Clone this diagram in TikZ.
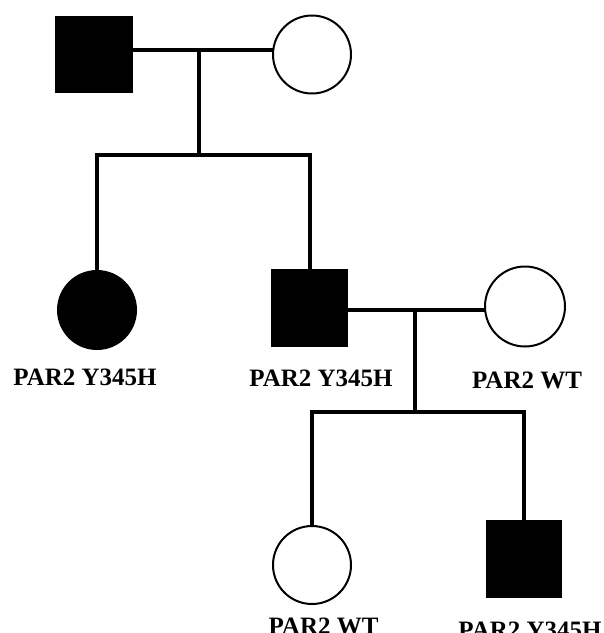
\documentclass[tikz,border=0pt]{standalone}
\usepackage{fontspec}
\setmainfont{Liberation Serif}
\begin{document}
\begin{tikzpicture}[x=1pt,y=-1pt,
  male/.style={rectangle,draw=black,line width=1.5pt,inner sep=0pt},
  female/.style={circle,draw=black,line width=2pt,inner sep=0pt},
  affected/.style={fill=black},
  unaffected/.style={fill=white},
  link/.style={line width=4pt,line join=miter,line cap=rect},
  genotype/.style={anchor=base,inner sep=0pt,font=\fontsize{25}{28}\selectfont\bfseries}]
\useasboundingbox[fill=white] (0,0) rectangle (604,633);

% first generation
\node[male,affected,minimum width=77pt,minimum height=76pt] (F) at (94,54.5) {};
\node[female,unaffected,minimum size=78pt] (M) at (312,54.5) {};
% second generation
\node[female,affected,minimum size=78pt] (D) at (97,310) {};
\node[male,affected,minimum width=75pt,minimum height=77pt] (S) at (309.5,308) {};
\node[female,unaffected,minimum size=80pt] (W) at (525,306.5) {};
% third generation
\node[female,unaffected,minimum size=78pt] (G) at (312,565) {};
\node[male,affected,minimum width=75pt,minimum height=77pt] (B) at (524,559) {};

% mating and sibship points
\coordinate (m1) at (199,50);
\coordinate (s1) at (199,155);
\coordinate (m2) at (415,310);
\coordinate (s2) at (415,412);

% connectors
\draw[link] (F.east |- m1) -- (M.west |- m1);
\draw[link] (m1) -- (s1);
\draw[link] (D.north) -- (D.north |- s1) -- (S.north |- s1) -- (S.north);
\draw[link] (S.east |- m2) -- (W.west |- m2);
\draw[link] (m2) -- (s2);
\draw[link] (G.north) -- (G.north |- s2) -- (B.north |- s2) -- (B.north);

% genotypes
\node[genotype] (tD) at (85,385) {PAR2 Y345H};
\node[genotype] (tS) at (321,386.5) {PAR2 Y345H};
\node[genotype] (tW) at (527,388) {PAR2 WT};
\node[genotype] (tG) at (323.5,634.5) {PAR2 WT};
\node[genotype] (tB) at (530,638.5) {PAR2 Y345H};
\end{tikzpicture}
\end{document}
